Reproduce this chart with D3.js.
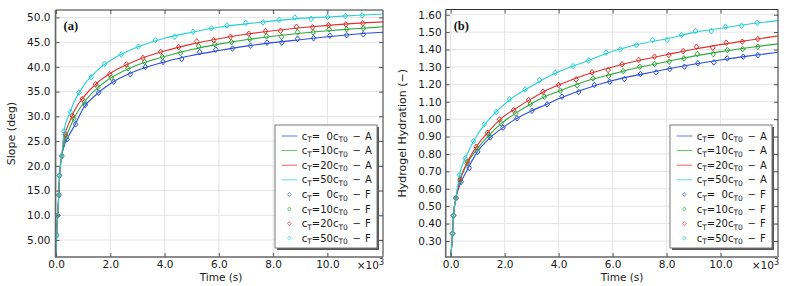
<!DOCTYPE html>
<html>
<head>
<meta charset="utf-8">
<script src="https://cdn.jsdelivr.net/npm/d3@7"></script>
<style>
  body { margin: 0; background: #fff; }
  svg { display: block; font-family: "DejaVu Sans", sans-serif; }
  .tick text { fill: #1a1a1a; }
</style>
</head>
<body>
<div id="chart"></div>
<script>
// ---- data ----
const timeTicks = [0, 2000, 4000, 6000, 8000, 10000];
const timeTickLabels = ["0.0", "2.0", "4.0", "6.0", "8.0", "10.0"];

const slopeTicks = [5, 10, 15, 20, 25, 30, 35, 40, 45, 50];
const slopeTickLabels = ["5.00", "10.0", "15.0", "20.0", "25.0", "30.0", "35.0", "40.0", "45.0", "50.0"];
const hydrationTicks = [0.3, 0.4, 0.5, 0.6, 0.7, 0.8, 0.9, 1.0, 1.1, 1.2, 1.3, 1.4, 1.5, 1.6];
const hydrationTickLabels = ["0.30", "0.40", "0.50", "0.60", "0.70", "0.80", "0.90", "1.00",
  "1.10", "1.20", "1.30", "1.40", "1.50", "1.60"];

const concentrations = ["\u20070", "10", "20", "50"];
const seriesColors = ["#2b4fd8", "#2fa83a", "#e0302f", "#27d0d4"];

// (a) slope, analytical lines (A)
const slopeLineTime = [0, 20, 60, 100, 130, 210, 300, 500, 700, 1000, 1500, 2000, 3000, 4000,
  5000, 6000, 7000, 8000, 9000, 10000, 11000, 12050];
const slopeLine0 = [0, 6, 10, 14, 18, 22, 24.0, 26.4, 28.3, 31.6, 34.5, 36.6, 39.3, 41.0, 42.3, 43.3, 44.2, 44.9, 45.5, 46.1, 46.6, 47.0];
const slopeLine10 = [0, 6, 10, 14, 18, 22, 24.6, 27.6, 30.0, 32.6, 35.6, 37.7, 40.4, 42.1, 43.5, 44.6, 45.5, 46.2, 46.8, 47.3, 47.7, 48.1];
const slopeLine20 = [0, 6, 10, 14, 18, 22, 25.7, 28.9, 31.4, 33.8, 36.7, 38.7, 41.4, 43.2, 44.6, 45.7, 46.6, 47.3, 47.9, 48.4, 48.8, 49.1];
const slopeLine50 = [0, 6, 10, 14, 18, 22, 27.3, 30.6, 33.3, 36.1, 39.2, 41.3, 44.0, 45.8, 47.0, 48.0, 48.7, 49.3, 49.8, 50.1, 50.4, 50.7];

// (a) slope, FE markers (F)
const slopeMarkTime0 = [20, 60, 100, 125, 210, 399, 720, 1077, 1568, 2122, 2738, 3291, 3941, 4631, 5295, 5886, 6502, 7166, 7779, 8321, 8900, 9491, 10092, 10708, 11321];
const slopeMark0 = [6.0, 10.0, 14.1, 18.1, 22.0, 25.35, 28.4, 32.3, 34.8, 37.0, 38.5, 40.0, 41.0, 41.6, 43.0, 43.5, 43.7, 44.3, 44.9, 44.9, 45.7, 45.8, 46.3, 46.4, 46.6];
const slopeMarkTime10 = [20, 60, 100, 125, 210, 376, 657, 1041, 1542, 2037, 2649, 3266, 3919, 4583, 5251, 5849, 6465, 7140, 7756, 8310, 8900, 9476, 10066, 10708, 11321];
const slopeMark10 = [6.0, 10.0, 14.1, 18.1, 22.0, 25.9, 29.5, 32.9, 35.9, 37.8, 39.7, 41.0, 42.0, 42.8, 44.2, 44.6, 45.0, 45.6, 46.2, 46.1, 47.0, 47.0, 47.6, 47.6, 47.8];
const slopeMarkTime20 = [20, 60, 100, 125, 210, 339, 598, 967, 1458, 1974, 2590, 3203, 3856, 4520, 5185, 5812, 6428, 7103, 7720, 8273, 8863, 9454, 10044, 10683, 11299];
const slopeMark20 = [6.0, 10.0, 14.1, 18.1, 22.0, 26.4, 30.1, 33.5, 36.5, 38.5, 40.5, 41.8, 43.05, 44.0, 45.15, 45.4, 46.1, 46.7, 47.2, 47.3, 48.1, 48.0, 48.4, 48.6, 48.8];
const slopeMarkTime50 = [20, 60, 100, 125, 210, 288, 524, 841, 1299, 1790, 2406, 3033, 3661, 4373, 5048, 5727, 6303, 6993, 7631, 8221, 8801, 9402, 10007, 10657, 11284];
const slopeMark50 = [6.0, 10.0, 14.1, 18.1, 22.0, 27.0, 30.9, 34.8, 37.9, 40.6, 42.5, 44.1, 45.4, 46.1, 47.1, 47.8, 48.4, 48.9, 49.0, 49.5, 50.0, 49.7, 50.1, 50.3, 50.4];

// (b) hydration, analytical lines (A)
const hydLineTime = [0, 70, 105, 195, 350, 600, 1000, 1400, 1900, 2400, 3000, 3500, 4000,
  5000, 6000, 7000, 8000, 9000, 10000, 11000, 12130];
const hydLine0 = [0.20, 0.345, 0.447, 0.545, 0.625, 0.705, 0.815, 0.885, 0.947, 1.000, 1.048, 1.082, 1.117, 1.175, 1.222, 1.256, 1.287, 1.315, 1.340, 1.362, 1.384];
const hydLine10 = [0.20, 0.345, 0.447, 0.55, 0.648, 0.742, 0.832, 0.905, 0.979, 1.033, 1.090, 1.130, 1.160, 1.218, 1.260, 1.298, 1.330, 1.362, 1.388, 1.410, 1.433];
const hydLine20 = [0.20, 0.345, 0.447, 0.55, 0.655, 0.748, 0.852, 0.928, 1.007, 1.060, 1.118, 1.162, 1.196, 1.255, 1.300, 1.338, 1.370, 1.402, 1.428, 1.452, 1.478];
const hydLine50 = [0.20, 0.345, 0.447, 0.55, 0.695, 0.795, 0.913, 0.995, 1.073, 1.135, 1.190, 1.235, 1.272, 1.331, 1.390, 1.432, 1.462, 1.497, 1.522, 1.545, 1.566];

// (b) hydration, FE markers (F)
const hydMarkTime0 = [67, 104, 193, 390, 686, 1002, 1466, 1937, 2456, 3013, 3570, 4126, 4742, 5325, 5892, 6438, 7032, 7614, 8119, 8664, 9158, 9751, 10249, 10842, 11384];
const hydMark0 = [0.344, 0.447, 0.547, 0.640, 0.720, 0.812, 0.895, 0.951, 1.005, 1.048, 1.085, 1.129, 1.156, 1.196, 1.215, 1.230, 1.259, 1.269, 1.288, 1.301, 1.321, 1.326, 1.349, 1.359, 1.368];
const hydMarkTime10 = [67, 104, 193, 360, 601, 994, 1417, 1874, 2404, 2950, 3469, 4063, 4683, 5276, 5855, 6390, 7006, 7562, 8096, 8638, 9135, 9729, 10249, 10827, 11384];
const hydMark10 = [0.344, 0.447, 0.547, 0.648, 0.746, 0.829, 0.909, 0.976, 1.033, 1.087, 1.129, 1.163, 1.194, 1.234, 1.248, 1.276, 1.301, 1.317, 1.330, 1.349, 1.374, 1.374, 1.397, 1.403, 1.416];
const hydMarkTime20 = [67, 104, 193, 352, 623, 946, 1365, 1811, 2330, 2887, 3421, 4000, 4646, 5239, 5833, 6353, 6968, 7551, 8082, 8616, 9110, 9714, 10211, 10805, 11384];
const hydMark20 = [0.344, 0.447, 0.547, 0.655, 0.755, 0.841, 0.922, 0.999, 1.052, 1.110, 1.157, 1.196, 1.228, 1.270, 1.282, 1.315, 1.340, 1.359, 1.368, 1.391, 1.416, 1.410, 1.439, 1.445, 1.460];
const hydMarkTime50 = [67, 104, 193, 315, 538, 846, 1243, 1688, 2182, 2764, 3295, 3878, 4534, 5113, 5759, 6289, 6883, 7488, 8022, 8553, 9072, 9655, 10186, 10779, 11362];
const hydMark50 = [0.344, 0.447, 0.547, 0.679, 0.775, 0.874, 0.970, 1.041, 1.114, 1.171, 1.225, 1.267, 1.305, 1.337, 1.382, 1.401, 1.426, 1.455, 1.455, 1.483, 1.506, 1.506, 1.531, 1.537, 1.554];

// ---- drawing ----
const W = 787, H = 286;
const svg = d3.select("#chart").append("svg")
    .attr("width", W)
    .attr("height", H);

const zip = (ts, vs) => ts.map((t, i) => ({t: t, v: vs[i]}));

const panels = [
  {
    id: "a", tag: "(a)", yLabel: "Slope (deg)",
    left: 55.5, right: 383, top: 10, bottom: 257,
    xDomain: [-20, 12050], yDomain: [1.57, 51.5],
    yTicks: slopeTicks, yTickLabels: slopeTickLabels, yPad: 5,
    lines: [slopeLine0, slopeLine10, slopeLine20, slopeLine50].map(v => zip(slopeLineTime, v)),
    marks: [zip(slopeMarkTime0, slopeMark0), zip(slopeMarkTime10, slopeMark10),
            zip(slopeMarkTime20, slopeMark20), zip(slopeMarkTime50, slopeMark50)],
    yLabelX: 11, xLabelX: 221, legendX: 275
  },
  {
    id: "b", tag: "(b)", yLabel: "Hydrogel Hydration (\u2212)",
    left: 445.7, right: 778, top: 9.5, bottom: 257,
    xDomain: [-185, 12130], yDomain: [0.208, 1.63],
    yTicks: hydrationTicks, yTickLabels: hydrationTickLabels, yPad: 4,
    lines: [hydLine0, hydLine10, hydLine20, hydLine50].map(v => zip(hydLineTime, v)),
    marks: [zip(hydMarkTime0, hydMark0), zip(hydMarkTime10, hydMark10),
            zip(hydMarkTime20, hydMark20), zip(hydMarkTime50, hydMark50)],
    yLabelX: 402, xLabelX: 622, legendX: 670
  }
];

const diamond = "M0,-2.8L2.3,0L0,2.8L-2.3,0Z";

panels.forEach(p => drawPanel(p));

function drawPanel(p) {
    let g = svg.append("g").attr("class", "panel-" + p.id);

    let x = d3.scaleLinear().domain(p.xDomain).range([p.left, p.right]);
    let y = d3.scaleLinear().domain(p.yDomain).range([p.bottom, p.top]);

    // grid
    g.append("g").selectAll("line.vg")
        .data(timeTicks).join("line")
        .attr("x1", d => x(d)).attr("x2", d => x(d))
        .attr("y1", p.top).attr("y2", p.bottom)
        .attr("stroke", "#e4e4e4").attr("stroke-width", 1);
    g.append("g").selectAll("line.hg")
        .data(p.yTicks).join("line")
        .attr("x1", p.left).attr("x2", p.right)
        .attr("y1", d => y(d)).attr("y2", d => y(d))
        .attr("stroke", "#e4e4e4").attr("stroke-width", 1);

    // clip
    g.append("defs").append("clipPath")
        .attr("id", "clip-" + p.id)
        .append("rect")
        .attr("x", p.left).attr("y", p.top)
        .attr("width", p.right - p.left).attr("height", p.bottom - p.top);

    let plot = g.append("g").attr("clip-path", "url(#clip-" + p.id + ")");

    let line = d3.line()
        .curve(d3.curveMonotoneX)
        .x(d => x(d.t))
        .y(d => y(d.v));

    p.lines.forEach((s, i) => {
        plot.append("path")
            .datum(s)
            .attr("d", line)
            .attr("fill", "none")
            .attr("stroke", seriesColors[i])
            .attr("stroke-width", 1.1);
    });

    p.marks.forEach((s, i) => {
        plot.append("g").selectAll("path")
            .data(s).join("path")
            .attr("transform", d => "translate(" + x(d.t) + "," + y(d.v) + ")")
            .attr("d", diamond)
            .attr("fill", "none")
            .attr("stroke", seriesColors[i])
            .attr("stroke-width", 1);
    });

    // axes, ticks pointing inward
    let xb = g.append("g")
        .attr("transform", "translate(0," + p.bottom + ")")
        .call(d3.axisBottom(x).tickValues(timeTicks)
            .tickFormat((d, i) => timeTickLabels[i])
            .tickSizeInner(-4).tickSizeOuter(0).tickPadding(4));
    let xt = g.append("g")
        .attr("transform", "translate(0," + p.top + ")")
        .call(d3.axisTop(x).tickValues(timeTicks).tickFormat("")
            .tickSizeInner(-4).tickSizeOuter(0));
    let yl = g.append("g")
        .attr("transform", "translate(" + p.left + ",0)")
        .call(d3.axisLeft(y).tickValues(p.yTicks)
            .tickFormat((d, i) => p.yTickLabels[i])
            .tickSizeInner(-4).tickSizeOuter(0).tickPadding(p.yPad));
    let yr = g.append("g")
        .attr("transform", "translate(" + p.right + ",0)")
        .call(d3.axisRight(y).tickValues(p.yTicks).tickFormat("")
            .tickSizeInner(-4).tickSizeOuter(0));

    [xb, xt, yl, yr].forEach(a => {
        a.select(".domain").remove();
        a.selectAll(".tick line").attr("stroke", "#555");
        a.selectAll(".tick text")
            .style("font-family", "DejaVu Sans")
            .style("font-size", "10.5px");
    });

    // frame
    g.append("line").attr("x1", p.left).attr("x2", p.right)
        .attr("y1", p.top).attr("y2", p.top)
        .attr("stroke", "#333").attr("stroke-width", 1);
    g.append("line").attr("x1", p.right).attr("x2", p.right)
        .attr("y1", p.top).attr("y2", p.bottom)
        .attr("stroke", "#333").attr("stroke-width", 1);
    g.append("line").attr("x1", p.left).attr("x2", p.left)
        .attr("y1", p.top).attr("y2", p.bottom + 0.75)
        .attr("stroke", "#666").attr("stroke-width", 1.6);
    g.append("line").attr("x1", p.left).attr("x2", p.right)
        .attr("y1", p.bottom).attr("y2", p.bottom)
        .attr("stroke", "#666").attr("stroke-width", 1.6);

    // x10^3
    let mult = g.append("text")
        .attr("x", p.right + 1).attr("y", 268.5)
        .attr("text-anchor", "end")
        .style("font-size", "10.5px").attr("fill", "#1a1a1a");
    mult.append("tspan").text("\u00d710");
    mult.append("tspan").attr("dy", -4).style("font-size", "8px").text("3");

    // axis titles
    g.append("text")
        .attr("x", p.xLabelX).attr("y", 280.5)
        .attr("text-anchor", "middle")
        .style("font-size", "10.5px").attr("fill", "#1a1a1a")
        .text("Time (s)");
    g.append("text")
        .attr("transform", "translate(" + p.yLabelX + "," + ((p.top + p.bottom) / 2) + ") rotate(-90)")
        .attr("text-anchor", "middle")
        .attr("dy", "0.35em")
        .style("font-size", "11px").attr("fill", "#1a1a1a")
        .text(p.yLabel);

    // panel tag
    g.append("text")
        .attr("x", p.left + 8).attr("y", 30)
        .style("font-family", "Liberation Serif")
        .style("font-weight", "bold")
        .style("font-size", "12.5px").attr("fill", "#111")
        .text(p.tag);

    drawLegend(g, p.legendX, 125);
}

function drawLegend(g, lx, ly) {
    let w = 102, h = 123;
    let leg = g.append("g").attr("transform", "translate(" + lx + "," + ly + ")");
    leg.append("rect").attr("x", 2).attr("y", 2).attr("width", w).attr("height", h)
        .attr("fill", "#555");
    leg.append("rect").attr("x", 0).attr("y", 0).attr("width", w).attr("height", h)
        .attr("fill", "#fff").attr("stroke", "#777").attr("stroke-width", 1);

    let rows = [];
    concentrations.forEach((c, i) => rows.push({c: c, col: seriesColors[i], kind: "A"}));
    concentrations.forEach((c, i) => rows.push({c: c, col: seriesColors[i], kind: "F"}));

    rows.forEach((r, i) => {
        let ry = 11 + i * 14.6;
        if (r.kind === "A") {
            leg.append("line")
                .attr("x1", 6.7).attr("x2", 22.3)
                .attr("y1", ry).attr("y2", ry)
                .attr("stroke", r.col).attr("stroke-width", 1).attr("opacity", 0.75);
        } else {
            leg.append("path")
                .attr("transform", "translate(14.3," + ry + ") scale(0.75)")
                .attr("d", diamond)
                .attr("fill", "none").attr("stroke", r.col).attr("stroke-width", 1.1)
                .attr("opacity", 0.8);
        }
        let t = leg.append("text")
            .attr("x", 26.7).attr("y", ry + 3.6)
            .style("font-size", "10px").style("white-space", "pre")
            .attr("fill", "#1a1a1a");
        t.append("tspan").text("c");
        t.append("tspan").attr("dy", 2.5).style("font-size", "7.5px").text("T");
        t.append("tspan").attr("dy", -2.5).text("=" + r.c + "c");
        t.append("tspan").attr("dy", 2.5).style("font-size", "7.5px").text("T0");
        leg.append("text")
            .attr("x", 77.5).attr("y", ry + 3.6)
            .style("font-size", "10px").attr("fill", "#1a1a1a")
            .text("\u2212");
        leg.append("text")
            .attr("x", 90).attr("y", ry + 3.6)
            .style("font-size", "10px").attr("fill", "#1a1a1a")
            .text(r.kind);
    });
}
</script>
</body>
</html>
